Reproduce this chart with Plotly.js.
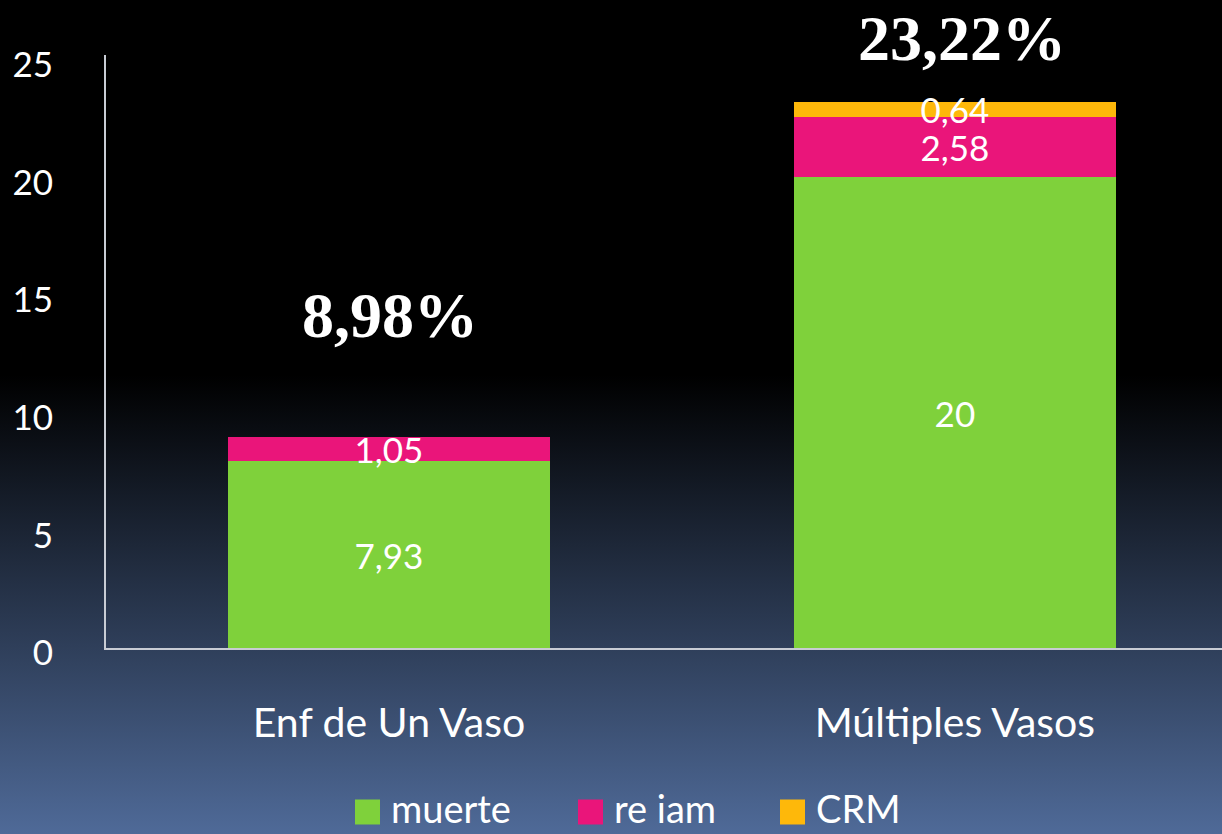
<!DOCTYPE html>
<html>
<head>
<meta charset="utf-8">
<script src="https://cdn.plot.ly/plotly-3.0.1.min.js"></script>
<style>
  html, body { margin: 0; padding: 0; width: 1222px; height: 834px; overflow: hidden; }
  body { background: linear-gradient(to bottom, #000000 0%, #000000 45%, #4f6a98 100%); }
  #chart { width: 1222px; height: 834px; }
</style>
</head>
<body>
<div id="chart"></div>
<script>
const categories = ["Enf de Un Vaso", "Múltiples Vasos"];
const muerte = [7.93, 20];
const reIam = [1.05, 2.58];
const crm = [null, 0.64];
const seriesNames = ["muerte", "re iam", "CRM"];
const totalLabels = ["8,98%", "23,22%"];
const yTicks = [0, 5, 10, 15, 20, 25];

const fmt = v => (v == null ? "" : String(v).replace(".", ","));
const colors = ["#7fd13b", "#ea157a", "#feb80a"];
const sans = "Lato, 'Open Sans', sans-serif";
const valueFont = { family: sans, size: 35, color: "#ffffff" };

function barTrace(name, vals, color) {
  return {
    type: "bar", name: name, x: categories, y: vals,
    marker: { color: color, line: { width: 0 } },
    text: vals.map(fmt), textposition: "inside", insidetextanchor: "middle",
    constraintext: "none", textangle: 0, textfont: valueFont,
    hoverinfo: "skip", cliponaxis: false, showlegend: false
  };
}

const data = [
  barTrace(seriesNames[0], muerte, colors[0]),
  barTrace(seriesNames[1], reIam, colors[1]),
  barTrace(seriesNames[2], crm, colors[2])
];

// plot-area geometry (pixels)
const M = { l: 106, r: 0, t: 55, b: 186 };
const W = 1222, H = 834;
const plotW = W - M.l - M.r, plotH = H - M.t - M.b;
const px2paperX = px => (px - M.l) / plotW;
const py2paperY = py => (H - M.b - py) / plotH;

const totals = categories.map((c, i) => (muerte[i] || 0) + (reIam[i] || 0) + (crm[i] || 0));
const totalShift = [121, 63];
const totalXShift = [1, 7];
const annotations = categories.map((c, i) => ({
  x: c, y: totals[i], xref: "x", yref: "y",
  text: "<b>" + totalLabels[i] + "</b>", showarrow: false,
  yanchor: "middle", yshift: totalShift[i], xshift: totalXShift[i],
  font: { family: "'Liberation Serif', 'Times New Roman', serif", size: 64, color: "#ffffff" }
}));

// custom legend (larger swatches)
const legendSwatchX = [355, 578, 780];
const legendSwatchY = 812, legendTextY = 808, sw = 25;
const shapes = [];
seriesNames.forEach((n, i) => {
  shapes.push({
    type: "rect", xref: "paper", yref: "paper",
    x0: px2paperX(legendSwatchX[i]), x1: px2paperX(legendSwatchX[i] + sw),
    y0: py2paperY(legendSwatchY + sw / 2), y1: py2paperY(legendSwatchY - sw / 2),
    fillcolor: colors[i], line: { width: 0 }, layer: "above"
  });
  annotations.push({
    xref: "paper", yref: "paper",
    x: px2paperX(legendSwatchX[i] + sw + 10), y: py2paperY(legendTextY),
    xanchor: "left", yanchor: "middle", showarrow: false, text: n, borderpad: 0,
    font: { family: sans, size: 38, color: "#ffffff" }
  });
});

const layout = {
  width: W, height: H,
  paper_bgcolor: "rgba(0,0,0,0)", plot_bgcolor: "rgba(0,0,0,0)",
  barmode: "stack", bargap: 0.43,
  margin: { l: M.l, r: M.r, t: M.t, b: M.b, pad: 0 },
  font: { family: sans, color: "#ffffff" },
  xaxis: {
    type: "category", range: [-0.5, 1.472],
    showline: true, linecolor: "#c8ccd4", linewidth: 2,
    ticks: "", ticklabelstandoff: 38,
    tickfont: { family: sans, size: 41, color: "#ffffff" },
    showgrid: false, zeroline: false, fixedrange: true
  },
  yaxis: {
    range: [0, 25.2], tickvals: yTicks, ticktext: yTicks.map(String),
    showline: true, linecolor: "#c8ccd4", linewidth: 2,
    ticks: "", ticklabelstandoff: 44, ticklabelshift: 5,
    tickfont: { family: sans, size: 35, color: "#ffffff" },
    showgrid: false, zeroline: false, fixedrange: true
  },
  showlegend: false,
  shapes: shapes,
  annotations: annotations
};

Plotly.newPlot("chart", data, layout, { displayModeBar: false, staticPlot: true });
</script>
</body>
</html>
